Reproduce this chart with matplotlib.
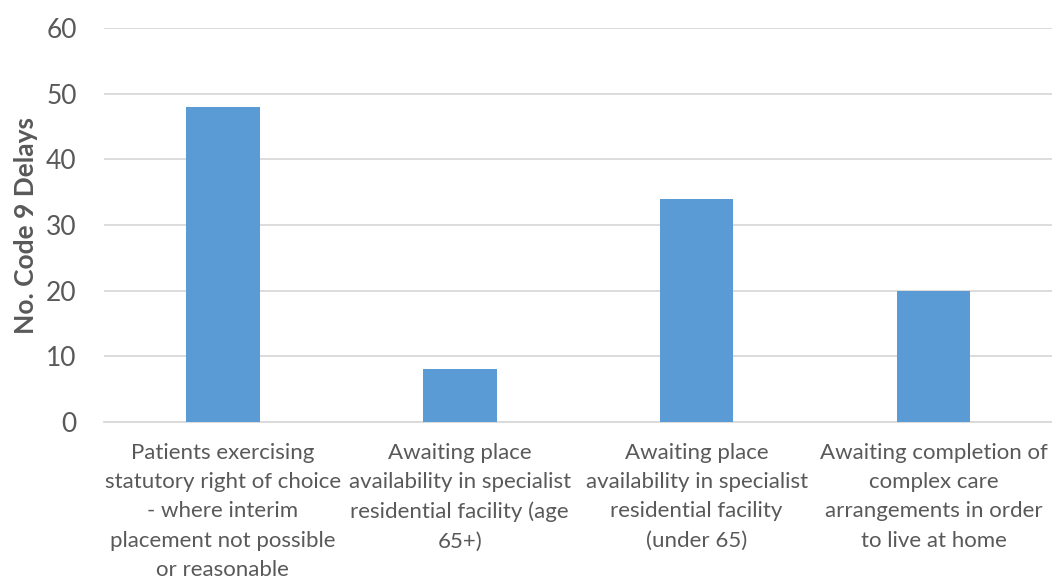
import matplotlib
matplotlib.use("Agg")
import matplotlib.pyplot as plt
import numpy as np

categories = [
    "Patients exercising\nstatutory right of choice\n- where interim\nplacement not possible\nor reasonable",
    "Awaiting place\navailability in specialist\nresidential facility (age\n65+)",
    "Awaiting place\navailability in specialist\nresidential facility\n(under 65)",
    "Awaiting completion of\ncomplex care\narrangements in order\nto live at home",
]
delays = [48, 8, 34, 20]
yticks = [0, 10, 20, 30, 40, 50, 60]

TXT = "#595959"
GRID = "#d9d9d9"
plt.rcParams["font.family"] = ["Lato", "DejaVu Sans"]

fig = plt.figure(figsize=(10.52, 5.77), dpi=100)
ax = fig.add_axes([0.0993, 0.2686, 0.9007, 0.6829])

xs = np.arange(len(categories))
ax.bar(xs, delays, width=0.31, color="#5b9bd5", zorder=3)

ax.set_xlim(-0.5, len(categories) - 0.5)
ax.set_ylim(0, 60)
ax.set_yticks(yticks)
ax.set_yticklabels([str(t) for t in yticks], fontsize=19, color=TXT)
ax.set_xticks(xs)
ax.set_xticklabels(categories, fontsize=16, color=TXT, linespacing=1.58)
ax.tick_params(axis="both", length=0)
ax.tick_params(axis="y", pad=20)
ax.tick_params(axis="x", pad=15)
ax.grid(axis="y", color=GRID, lw=1.3, zorder=0)
for s in ["top", "right", "left"]:
    ax.spines[s].set_visible(False)
ax.spines["bottom"].set_color(GRID)
ax.spines["bottom"].set_linewidth(1.3)

ax.set_ylabel("No. Code 9 Delays", fontsize=19, fontweight="bold", color=TXT, labelpad=6)

fig.savefig("out.png", dpi=100)
